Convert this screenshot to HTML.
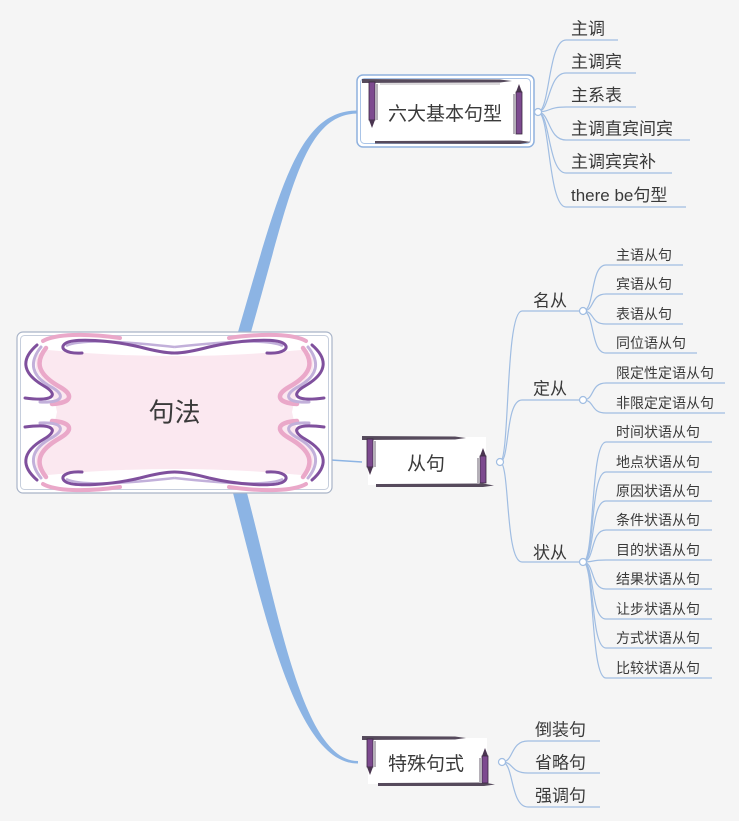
<!DOCTYPE html>
<html><head><meta charset="utf-8"><style>
html,body{margin:0;padding:0;background:#f5f5f5;}
svg{display:block;}
text{font-family:"Liberation Sans","Noto Sans CJK SC",sans-serif;fill:#3a3a3a;}
</style></head><body>
<svg width="739" height="821" viewBox="0 0 739 821" xmlns="http://www.w3.org/2000/svg">
<defs>
<g id="q">
  <path d="M43,341 C55,334 85,333 120,338" stroke="#eaa8c9" stroke-width="4" fill="none" stroke-linecap="round"/>
  <path d="M66,346 C80,339 120,341 174.5,347" stroke="#c2b0da" stroke-width="2.5" fill="none"/>
  <path d="M82,353 C66,354 58,348 66,343 C75,338 110,340 140,347 C155,351 165,353 174.5,353" stroke="#7f509d" stroke-width="3" fill="none" stroke-linecap="round"/>
  <path d="M46,348 C35,362 37,374 60,387 C74,395 72,403 52,404" stroke="#eaa8c9" stroke-width="4.5" fill="none" stroke-linecap="round"/>
  <path d="M41,347 C29,362 30,376 53,388 C66,396 62,403 40,402" stroke="#c2b0da" stroke-width="3" fill="none" stroke-linecap="round"/>
  <path d="M37,345 C22,358 20,372 44,386 C58,394 56,402 25,398" stroke="#7f509d" stroke-width="3" fill="none" stroke-linecap="round"/>
</g>
</defs>
<rect width="739" height="821" fill="#f5f5f5"/>

<!-- main connectors -->
<path d="M238,332 C280,188 298,110 358,110.5 L358,113.5 C303,114 291,192 251,332 Z" fill="#8cb4e4"/>
<path d="M233,493 C266,620 297,764 358,763.5 L358,761 C303,761 279,615 247,493 Z" fill="#8cb4e4"/>
<line x1="331" y1="460" x2="362" y2="462" stroke="#8cb4e4" stroke-width="1.5"/>

<!-- root node -->
<rect x="17" y="332" width="315" height="161" rx="6" fill="#fff" stroke="#a9b4c8" stroke-width="1.2"/>
<rect x="20.5" y="335.5" width="308" height="154" rx="4" fill="#fff" stroke="#c6cedc" stroke-width="1"/>
<path d="M48,350 Q174.5,362 301,350 Q318,352 312,372 Q296,390 292,412 Q296,434 312,452 Q318,472 301,475 Q174.5,463 48,475 Q31,472 37,452 Q53,434 57,412 Q53,390 37,372 Q31,352 48,350 Z" fill="#fbe8f0"/>
<use href="#q"/>
<use href="#q" transform="translate(349,0) scale(-1,1)"/>
<use href="#q" transform="translate(0,825) scale(1,-1)"/>
<use href="#q" transform="translate(349,825) scale(-1,-1)"/>
<text x="174.5" y="421.5" font-size="26" text-anchor="middle">句法</text>

<!-- node 1 六大基本句型 -->
<rect x="357" y="75" width="177" height="72" rx="6" fill="#fff" stroke="#8fb1de" stroke-width="1.5"/>
<rect x="360.5" y="78.5" width="170" height="65" rx="4" fill="#fff" stroke="#aac4e7" stroke-width="1"/>
<path d="M362,79 L500,79.5 L512,81 L500,82.5 L362,83 Z" fill="#564a5c"/>
<line x1="380" y1="84" x2="500" y2="84" stroke="#b8b4ba" stroke-width="1"/>
<path d="M375,141 L520,140.5 L531,142 L520,144 L375,143.5 Z" fill="#564a5c"/>
<rect x="369" y="82" width="6" height="38" fill="#7d4a8f" stroke="#3a2840" stroke-width="0.8"/>
<rect x="375" y="84" width="3" height="36" fill="#b5b0b8"/>
<polygon points="369,120 375,120 372,128" fill="#4a3550"/>
<polygon points="516,92 522,92 519,84" fill="#4a3550"/>
<rect x="516" y="92" width="6" height="42" fill="#7d4a8f" stroke="#3a2840" stroke-width="0.8"/>
<rect x="513" y="94" width="3" height="40" fill="#b5b0b8"/>
<text x="445" y="120" font-size="19" text-anchor="middle">六大基本句型</text>

<!-- node 2 从句 -->
<rect x="368" y="437" width="118" height="48" fill="#fff"/>
<path d="M362,436 L455,436.5 L466,438 L455,439.5 L362,440 Z" fill="#564a5c"/>
<path d="M376,484 L483,483.5 L494,485.5 L483,487 L376,487 Z" fill="#564a5c"/>
<rect x="367" y="439" width="6" height="28" fill="#7d4a8f" stroke="#3a2840" stroke-width="0.8"/>
<rect x="373" y="441" width="3" height="26" fill="#b5b0b8"/>
<polygon points="367,467 373,467 370,475" fill="#4a3550"/>
<polygon points="480,456 486,456 483,448" fill="#4a3550"/>
<rect x="480" y="456" width="6" height="27" fill="#7d4a8f" stroke="#3a2840" stroke-width="0.8"/>
<rect x="477" y="458" width="3" height="25" fill="#b5b0b8"/>
<text x="426" y="470" font-size="19" text-anchor="middle">从句</text>

<!-- node 3 特殊句式 -->
<rect x="368" y="738" width="119" height="46" fill="#fff"/>
<path d="M362,736 L455,736.5 L466,738 L455,739.5 L362,740 Z" fill="#564a5c"/>
<path d="M378,783 L484,782.5 L495,784.5 L484,786 L378,786 Z" fill="#564a5c"/>
<rect x="367" y="739" width="6" height="28" fill="#7d4a8f" stroke="#3a2840" stroke-width="0.8"/>
<rect x="373" y="741" width="3" height="26" fill="#b5b0b8"/>
<polygon points="367,767 373,767 370,775" fill="#4a3550"/>
<polygon points="482,756 488,756 485,748" fill="#4a3550"/>
<rect x="482" y="756" width="6" height="27" fill="#7d4a8f" stroke="#3a2840" stroke-width="0.8"/>
<rect x="479" y="758" width="3" height="25" fill="#b5b0b8"/>
<text x="426" y="770" font-size="19" text-anchor="middle">特殊句式</text>

<!-- branch lines -->
<g stroke="#a0bde2" stroke-width="1.2" fill="none">
  <path d="M538,112 C550,112 548,40 566,40 L618,40"/>
  <path d="M538,112 C550,112 548,73 566,73 L636,73"/>
  <path d="M538,112 C550,112 548,107 566,107 L636,107"/>
  <path d="M538,112 C550,112 548,140 566,140 L690,140"/>
  <path d="M538,112 C550,112 548,173 566,173 L672,173"/>
  <path d="M538,112 C550,112 548,207 566,207 L686,207"/>

  <path d="M500,462 C510,462 505,311 522,311 L583,311"/>
  <path d="M500,462 C510,462 505,400 522,400 L583,400"/>
  <path d="M500,462 C510,462 505,562 522,562 L583,562"/>

  <path d="M583,311 C595,311 590,265 606,265 L683,265"/>
  <path d="M583,311 C595,311 590,294 606,294 L683,294"/>
  <path d="M583,311 C595,311 590,324 606,324 L683,324"/>
  <path d="M583,311 C595,311 590,353 606,353 L697,353"/>

  <path d="M583,400 C595,400 590,383 606,383 L725,383"/>
  <path d="M583,400 C595,400 590,413 606,413 L725,413"/>

  <path d="M583,562 C595,562 590,442 606,442 L712,442"/>
  <path d="M583,562 C595,562 590,472 606,472 L712,472"/>
  <path d="M583,562 C595,562 590,501 606,501 L712,501"/>
  <path d="M583,562 C595,562 590,530 606,530 L712,530"/>
  <path d="M583,562 C595,562 590,560 606,560 L712,560"/>
  <path d="M583,562 C595,562 590,589 606,589 L712,589"/>
  <path d="M583,562 C595,562 590,619 606,619 L712,619"/>
  <path d="M583,562 C595,562 590,648 606,648 L712,648"/>
  <path d="M583,562 C595,562 590,678 606,678 L712,678"/>

  <path d="M502,762 C514,762 510,741 528,741 L600,741"/>
  <path d="M502,762 C514,762 510,773 528,773 L600,773"/>
  <path d="M502,762 C514,762 510,807 528,807 L600,807"/>
</g>
<g fill="#fff" stroke="#a0bde2" stroke-width="1.2">
  <circle cx="538" cy="112" r="3.5"/>
  <circle cx="500" cy="462" r="3.5"/>
  <circle cx="583" cy="311" r="3.5"/>
  <circle cx="583" cy="400" r="3.5"/>
  <circle cx="583" cy="562" r="3.5"/>
  <circle cx="502" cy="762" r="3.5"/>
</g>

<g font-size="17">
  <text x="571" y="34.5">主调</text>
  <text x="571" y="67.5">主调宾</text>
  <text x="571" y="101">主系表</text>
  <text x="571" y="134.5">主调直宾间宾</text>
  <text x="571" y="167.5">主调宾宾补</text>
  <text x="571" y="201">there be句型</text>
  <text x="533" y="306.5">名从</text>
  <text x="533" y="394.5">定从</text>
  <text x="533" y="558.5">状从</text>
  <text x="535" y="735.5">倒装句</text>
  <text x="535" y="768.5">省略句</text>
  <text x="535" y="801.5">强调句</text>
</g>
<g font-size="14">
  <text x="616" y="260">主语从句</text>
  <text x="616" y="289">宾语从句</text>
  <text x="616" y="319">表语从句</text>
  <text x="616" y="348">同位语从句</text>
  <text x="616" y="378">限定性定语从句</text>
  <text x="616" y="408">非限定定语从句</text>
  <text x="616" y="437">时间状语从句</text>
  <text x="616" y="467">地点状语从句</text>
  <text x="616" y="496">原因状语从句</text>
  <text x="616" y="525">条件状语从句</text>
  <text x="616" y="555">目的状语从句</text>
  <text x="616" y="584">结果状语从句</text>
  <text x="616" y="614">让步状语从句</text>
  <text x="616" y="643">方式状语从句</text>
  <text x="616" y="673">比较状语从句</text>
</g>
</svg>
</body></html>
